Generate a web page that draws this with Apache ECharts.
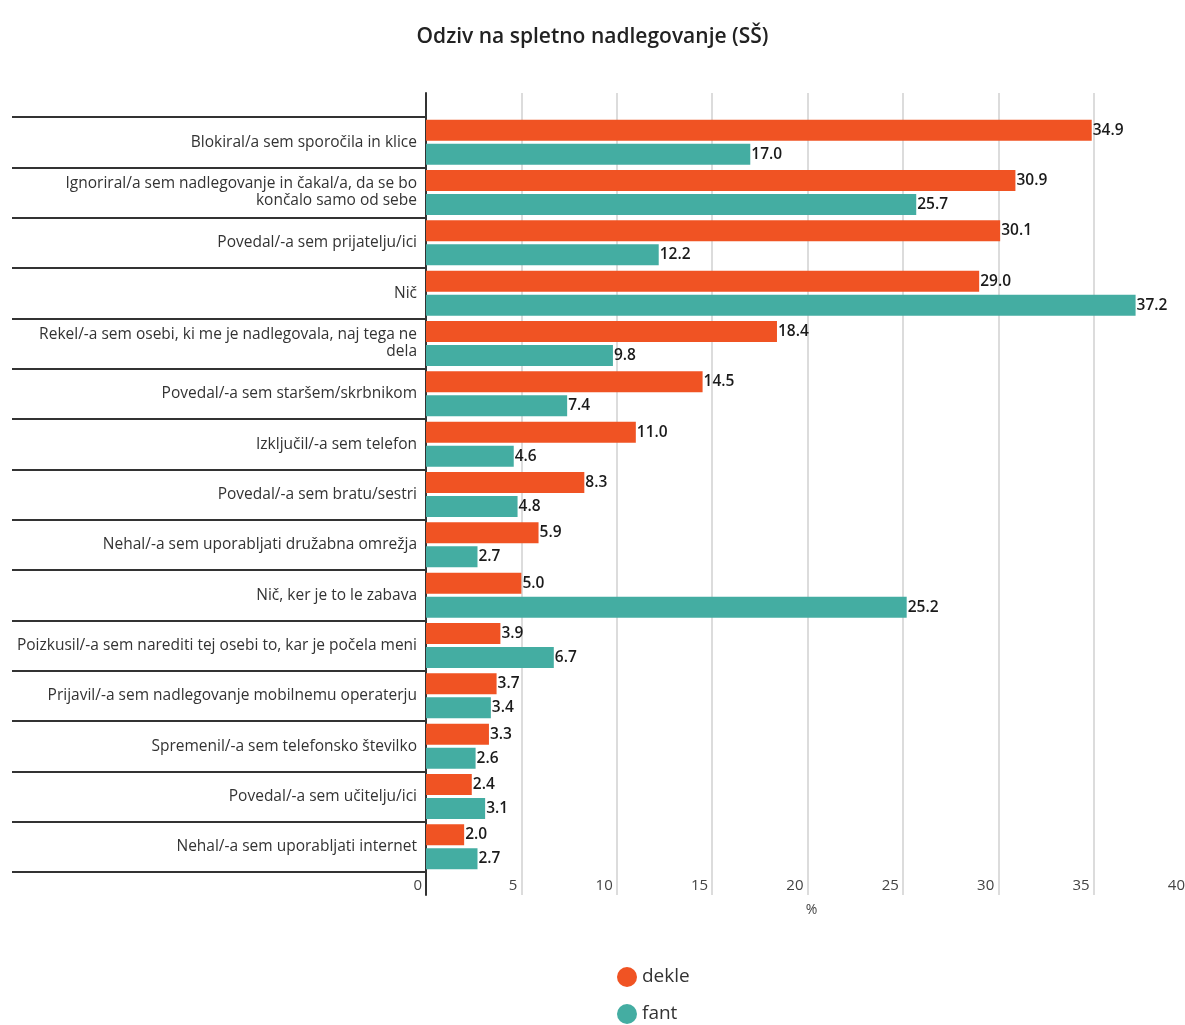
<!DOCTYPE html>
<html>
<head>
<meta charset="utf-8">
<script src="https://cdn.jsdelivr.net/npm/echarts@6/dist/echarts.min.js"></script>
<style>html,body{margin:0;padding:0;background:#fff;}#c{width:1185px;height:1025px;}</style>
</head>
<body>
<div id="c"></div>
<script>
const categories = [
  "Blokiral/a sem sporočila in klice",
  "Ignoriral/a sem nadlegovanje in čakal/a, da se bo\nkončalo samo od sebe",
  "Povedal/-a sem prijatelju/ici",
  "Nič",
  "Rekel/-a sem osebi, ki me je nadlegovala, naj tega ne\ndela",
  "Povedal/-a sem staršem/skrbnikom",
  "Izključil/-a sem telefon",
  "Povedal/-a sem bratu/sestri",
  "Nehal/-a sem uporabljati družabna omrežja",
  "Nič, ker je to le zabava",
  "Poizkusil/-a sem narediti tej osebi to, kar je počela meni",
  "Prijavil/-a sem nadlegovanje mobilnemu operaterju",
  "Spremenil/-a sem telefonsko številko",
  "Povedal/-a sem učitelju/ici",
  "Nehal/-a sem uporabljati internet"
];
const dekle = [34.9, 30.9, 30.1, 29.0, 18.4, 14.5, 11.0, 8.3, 5.9, 5.0, 3.9, 3.7, 3.3, 2.4, 2.0];
const fant  = [17.0, 25.7, 12.2, 37.2, 9.8, 7.4, 4.6, 4.8, 2.7, 25.2, 6.7, 3.4, 2.6, 3.1, 2.7];
const xTicks = { min: 0, max: 40, interval: 5 };
const title = "Odziv na spletno nadlegovanje (SŠ)";

const FONT = "Open Sans";
const chart = echarts.init(document.getElementById('c'));
const barLabel = {
  show: true, position: 'right', distance: 1,
  color: '#1a1a1a', fontFamily: FONT, fontSize: 15.5, fontWeight: 600,
  formatter: p => p.value.toFixed(1)
};
const legendBase = {
  icon: 'circle', itemWidth: 20, itemHeight: 20, left: 612,
  textStyle: { fontFamily: FONT, fontSize: 19, color: '#333' }
};
chart.setOption({
  backgroundColor: '#fff',
  title: {
    text: title, left: 'center', top: 22,
    textStyle: { fontFamily: FONT, fontSize: 21, fontWeight: 600, color: '#222' }
  },
  legend: [
    Object.assign({}, legendBase, { top: 962, data: ['dekle'] }),
    Object.assign({}, legendBase, { top: 999, data: ['fant'] })
  ],
  grid: [
    { left: 426, width: 763, top: 117, bottom: 153, containLabel: false, outerBoundsMode: 'none' },
    { left: 426, width: 763, top: 93, bottom: 130, containLabel: false, outerBoundsMode: 'none' }
  ],
  xAxis: [
    {
      gridIndex: 0, type: 'value', min: xTicks.min, max: xTicks.max, interval: xTicks.interval,
      axisLine: { show: false }, axisTick: { show: false }, splitLine: { show: false },
      axisLabel: { align: 'right', margin: 6, padding: [0, 4, 0, 0], fontFamily: FONT, fontSize: 15, color: '#444' },
      name: '%', nameLocation: 'middle', nameGap: 31,
      nameTextStyle: { fontFamily: FONT, fontSize: 14, color: '#444', padding: [0, 0, 0, 8] }
    },
    {
      gridIndex: 1, type: 'value', min: xTicks.min, max: xTicks.max, interval: xTicks.interval,
      axisLine: { show: false }, axisTick: { show: false }, axisLabel: { show: false },
      splitLine: { show: true, lineStyle: { color: '#dcdcdc', width: 2 } }
    }
  ],
  yAxis: [
    {
      gridIndex: 0, type: 'category', data: categories, inverse: true,
      axisLine: { show: false },
      axisTick: { show: true, length: 414, interval: 0, lineStyle: { color: '#333', width: 2 } },
      axisLabel: { margin: 9, interval: 0, fontFamily: FONT, fontSize: 15.5, color: '#333', lineHeight: 17, align: 'right' }
    },
    {
      gridIndex: 1, type: 'value', min: 0, max: 1,
      axisLine: { show: true, lineStyle: { color: '#333', width: 2 } },
      axisTick: { show: false }, axisLabel: { show: false }, splitLine: { show: false }
    }
  ],
  series: [
    { name: 'dekle', type: 'bar', xAxisIndex: 0, yAxisIndex: 0, data: dekle, barWidth: 21, barGap: '14%',
      itemStyle: { color: '#F05323' }, label: barLabel, z: 3 },
    { name: 'fant', type: 'bar', xAxisIndex: 0, yAxisIndex: 0, data: fant, barWidth: 21, barGap: '14%',
      itemStyle: { color: '#44ADA2' }, label: barLabel, z: 3 }
  ]
});
</script>
</body>
</html>
